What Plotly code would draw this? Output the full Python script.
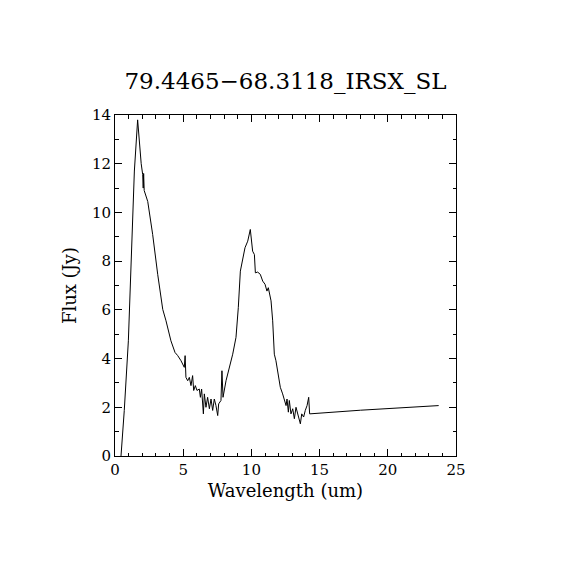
import plotly.graph_objects as go

wavelength = [0.44, 0.68, 0.98, 1.17, 1.42, 1.66, 1.78, 1.92, 2.03, 2.07, 2.1, 2.14, 2.4, 2.76, 3.13,
              3.42, 3.47, 3.5, 3.74, 4.1, 4.4, 4.6, 4.84, 5.08, 5.14, 5.17, 5.2, 5.33, 5.45, 5.57,
              5.69, 5.77, 5.89, 6.01, 6.18, 6.26, 6.35, 6.48, 6.55, 6.67, 6.79, 6.92, 7.04, 7.16,
              7.28, 7.4, 7.53, 7.6, 7.77, 7.84, 7.92, 8.14, 8.38, 8.63, 8.87, 9.04, 9.19, 9.36,
              9.53, 9.73, 9.92, 10.09, 10.22, 10.29, 10.46, 10.65, 10.83, 11.0, 11.14, 11.24,
              11.34, 11.44, 11.56, 11.68, 11.8, 11.98, 12.12, 12.29, 12.41, 12.54, 12.61, 12.71,
              12.78, 12.9, 13.03, 13.15, 13.27, 13.39, 13.51, 13.59, 13.69, 13.83, 13.95, 14.08,
              14.2, 14.27, 18.0, 23.73]
flux = [0.0, 1.87, 4.73, 8.0, 11.7, 13.8, 12.8, 12.0, 11.55, 11.0, 11.6, 10.9, 10.45, 9.1, 7.46,
        6.23, 6.1, 6.02, 5.55, 4.73, 4.25, 4.12, 3.91, 3.64, 4.12, 3.4, 3.23, 3.09, 3.23, 2.89,
        3.3, 2.69, 2.89, 2.69, 2.75, 2.41, 2.75, 1.73, 2.55, 2.0, 2.41, 1.94, 2.34, 1.87,
        2.34, 2.07, 1.66, 2.14, 2.28, 3.5, 2.41, 3.09, 3.64, 4.18, 4.87, 6.09, 7.59, 8.14,
        8.55, 8.82, 9.3, 8.41, 8.27, 7.52, 7.55, 7.46, 7.18, 7.05, 6.77, 6.91,
        6.64, 6.37, 5.55, 4.18, 3.91, 3.23, 2.82, 2.55, 2.28, 2.07, 2.34, 1.8,
        2.28, 1.73, 1.94, 1.53, 2.0, 1.73, 1.53, 1.32, 1.73, 1.6, 1.87, 2.07,
        2.41, 1.73, 1.88, 2.07]

title_text = "79.4465\u221268.3118_IRSX_SL"
x_title = "Wavelength (um)"
y_title = "Flux (Jy)"

font_family = "DejaVu Serif"

fig = go.Figure()
fig.add_trace(go.Scatter(x=wavelength, y=flux, mode="lines",
                         line=dict(color="black", width=1), showlegend=False))

axis_common = dict(
    showline=True, linecolor="black", linewidth=1, mirror="allticks",
    ticks="inside", ticklen=7, tickwidth=1, tickcolor="black",
    showgrid=False, zeroline=False,
    tickfont=dict(family=font_family, size=15, color="black"),
)

fig.update_xaxes(range=[0, 25], tickmode="linear", tick0=0, dtick=5,
                 minor=dict(ticks="inside", ticklen=3.5, tickcolor="black", dtick=1, showgrid=False),
                 title=dict(text=x_title, font=dict(family=font_family, size=18, color="black"), standoff=6),
                 **axis_common)
fig.update_yaxes(range=[0, 14], tickmode="linear", tick0=0, dtick=2,
                 minor=dict(ticks="inside", ticklen=3.5, tickcolor="black", dtick=1, showgrid=False),
                 title=dict(text=y_title, font=dict(family=font_family, size=18, color="black"), standoff=10),
                 **axis_common)

fig.update_layout(
    width=570, height=570,
    margin=dict(l=107, r=122, t=107, b=122, autoexpand=False),
    paper_bgcolor="white", plot_bgcolor="white",
    title=dict(text=title_text, x=0.5, xanchor="center", xref="paper",
               y=1 - 73 / 570, yanchor="middle", yref="container",
               font=dict(family=font_family, size=23, color="black")),
)

fig.write_html("out.html")
